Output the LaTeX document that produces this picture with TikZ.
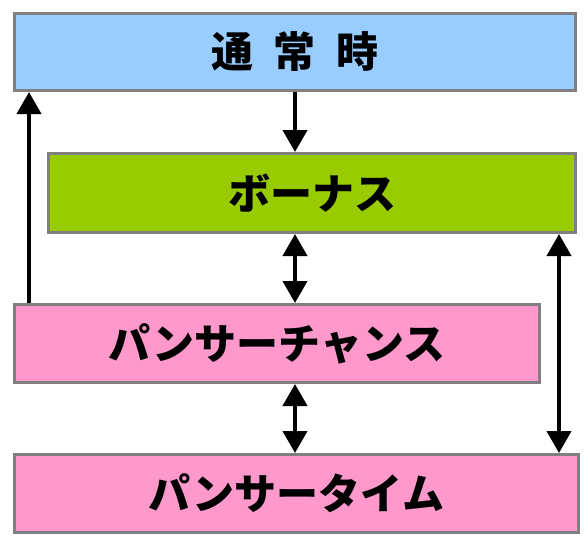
\documentclass[tikz,border=0pt]{standalone}
\usepackage{fontspec}
\setmainfont{Noto Sans CJK JP}
\usetikzlibrary{arrows.meta}
\definecolor{bordergray}{HTML}{808080}
\definecolor{boxblue}{HTML}{99CCFF}
\definecolor{boxgreen}{HTML}{99CC00}
\definecolor{boxpink}{HTML}{FF99CC}
\begin{document}
\begin{tikzpicture}[x=1pt,y=-1pt,
  box/.style={draw=bordergray,line width=3pt,inner sep=0pt,
    font=\fontsize{42}{48}\selectfont\bfseries},
  arr/.style={line width=4pt,-{Triangle[length=22pt,width=24pt]}},
  darr/.style={line width=4pt,{Triangle[length=22pt,width=24pt]}-{Triangle[length=22pt,width=24pt]}}]
\path[use as bounding box] (0,0) rectangle (588,547);
\node[box,fill=boxblue,minimum width=561pt,minimum height=77pt] (A) at (295,52) {通\hspace{0.48em}常\hspace{0.48em}時};
\node[box,fill=boxgreen,minimum width=527pt,minimum height=79pt] (B) at (312,193) {ボーナス};
\node[box,fill=boxpink,minimum width=525pt,minimum height=78pt] (C) at (277,343.5) {パンサーチャンス};
\node[box,fill=boxpink,minimum width=564pt,minimum height=78pt] (D) at (296.5,493.5) {パンサータイム};
\coordinate (M) at (295,0);
\coordinate (L) at (29,0);
\coordinate (R) at (559,0);
\draw[arr] (M |- A.south) -- (M |- B.north);
\draw[darr] (M |- B.south) -- (M |- C.north);
\draw[darr] (M |- C.south) -- (M |- D.north);
\draw[arr] (L |- C.north) -- (L |- A.south);
\draw[darr] (R |- B.south) -- (R |- D.north);
\end{tikzpicture}
\end{document}
